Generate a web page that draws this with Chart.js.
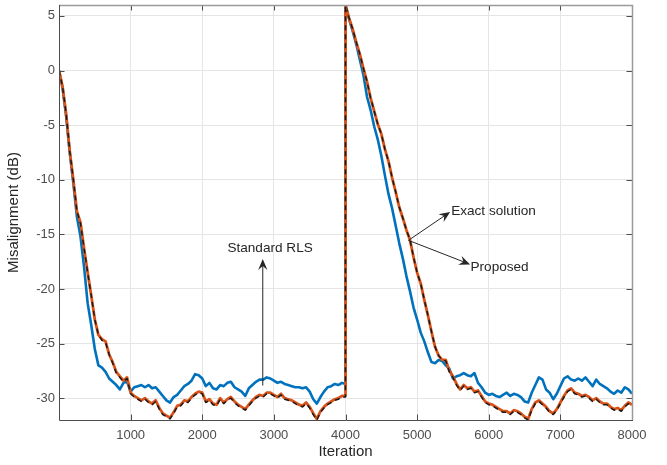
<!DOCTYPE html>
<html><head><meta charset="utf-8">
<script src="https://cdn.jsdelivr.net/npm/chart.js@4/dist/chart.umd.min.js"></script>
<style>html,body{margin:0;padding:0;background:#fff}#wrap{width:667px;height:465px}</style>
</head><body><div id="wrap"><canvas id="c" width="667" height="465"></canvas></div>
<script>
// ---- data ----
const xTicks = [1000, 2000, 3000, 4000, 5000, 6000, 7000, 8000];
const yTicks = [5, 0, -5, -10, -15, -20, -25, -30];

// sample iterations: 0..3950 step 50, 3999, 4000..8000 step 50
const iterations = [];
for (let k = 0; k <= 3950; k += 50) iterations.push(k);
iterations.push(3999);
for (let k = 4000; k <= 8000; k += 50) iterations.push(k);

const standardRLS = [
  0,-1.6,-4.2,-7.5,-10.3,-13.4,-15.2,-18.0,-21.3,-23.3,
  -25.5,-27.0,-27.2,-27.6,-28.2,-28.5,-28.8,-29.2,-28.6,-28.5,
  -29.4,-29.0,-28.9,-28.8,-29.0,-28.8,-29.1,-29.0,-29.4,-29.8,
  -30.2,-30.4,-29.9,-29.7,-29.3,-28.9,-28.7,-28.4,-27.8,-27.9,
  -28.2,-28.9,-28.6,-29.1,-29.2,-28.8,-28.9,-28.6,-28.5,-29.0,
  -29.2,-29.4,-29.8,-29.1,-28.8,-28.5,-28.3,-28.3,-28.1,-28.2,
  -28.4,-28.6,-28.5,-28.7,-28.8,-28.9,-29.0,-29.0,-29.1,-29.0,
  -29.4,-30.1,-30.5,-29.9,-29.4,-29.0,-28.9,-28.7,-28.8,-28.6,
  -28.7,
  6.0,4.7,3.6,2.4,1.0,-0.4,-2.4,-3.6,-5.1,-6.3,
  -7.8,-9.6,-11.3,-12.6,-14.2,-15.8,-17.2,-18.8,-20.2,-21.7,
  -22.8,-24.0,-24.8,-25.8,-26.7,-26.8,-26.5,-26.6,-27.0,-27.3,
  -28.2,-28.0,-27.9,-27.7,-27.9,-28.0,-27.7,-28.6,-29.0,-29.5,
  -29.7,-29.6,-29.8,-29.9,-29.7,-29.5,-29.8,-29.6,-29.7,-29.9,
  -30.3,-30.4,-29.5,-28.8,-28.1,-28.3,-29.2,-29.5,-30.1,-29.6,
  -28.9,-28.2,-28.0,-28.3,-28.4,-28.2,-28.4,-28.1,-28.5,-28.9,
  -28.3,-28.7,-28.9,-29.1,-29.4,-29.6,-29.3,-29.5,-29.0,-29.2,
  -29.6
];

const proposed = [
  0,-1.5,-4.0,-7.4,-10.0,-12.9,-13.9,-16.3,-18.5,-20.6,
  -22.8,-24.2,-24.6,-24.8,-26.0,-26.7,-27.6,-28.0,-28.4,-28.1,
  -29.5,-29.8,-30.0,-30.2,-30.0,-30.3,-30.5,-30.2,-30.9,-31.4,
  -31.6,-31.8,-31.3,-30.7,-30.6,-30.2,-30.3,-29.9,-29.6,-29.4,
  -29.5,-30.3,-30.1,-30.5,-30.6,-30.0,-30.4,-30.1,-29.9,-30.3,
  -30.6,-30.8,-31.0,-30.6,-30.2,-29.9,-29.7,-29.8,-29.5,-29.5,
  -29.7,-29.9,-29.6,-30.0,-30.1,-30.2,-30.4,-30.6,-30.7,-30.4,
  -30.8,-31.4,-31.9,-31.2,-30.8,-30.5,-30.3,-30.1,-30.0,-29.8,
  -29.8,
  6.0,4.8,3.8,2.6,1.5,0.2,-1.0,-2.5,-3.7,-4.9,
  -5.8,-7.2,-8.3,-9.8,-11.1,-12.5,-13.5,-14.6,-15.5,-17.1,
  -18.5,-19.5,-21.0,-22.4,-23.9,-25.3,-26.1,-26.5,-26.5,-27.5,
  -28.0,-28.7,-29.2,-28.8,-29.1,-29.0,-29.4,-29.3,-29.8,-30.3,
  -30.5,-30.6,-30.8,-31.0,-31.2,-31.2,-31.4,-31.1,-31.2,-31.4,
  -31.7,-31.9,-31.0,-30.4,-30.2,-30.5,-30.8,-31.2,-31.4,-31.0,
  -30.4,-29.8,-29.3,-29.1,-29.5,-29.6,-29.8,-29.7,-29.9,-30.2,
  -30.0,-30.3,-30.5,-30.5,-30.8,-31.0,-30.9,-31.1,-30.7,-30.4,
  -30.6
];

const exactSolution = [
  0,-1.5,-4.0,-7.4,-10.0,-12.9,-14.0,-16.3,-18.5,-20.6,
  -22.8,-24.2,-24.7,-24.9,-26.0,-26.8,-27.7,-28.1,-28.5,-28.2,
  -29.6,-29.9,-30.1,-30.3,-30.1,-30.4,-30.6,-30.3,-31.0,-31.5,
  -31.7,-31.9,-31.4,-30.8,-30.7,-30.3,-30.4,-30.0,-29.7,-29.5,
  -29.6,-30.4,-30.2,-30.6,-30.7,-30.1,-30.5,-30.2,-30.0,-30.4,
  -30.7,-30.9,-31.1,-30.7,-30.3,-30.0,-29.8,-29.9,-29.6,-29.6,
  -29.8,-30.0,-29.7,-30.1,-30.2,-30.3,-30.5,-30.7,-30.8,-30.5,
  -30.9,-31.5,-32.0,-31.3,-30.9,-30.6,-30.4,-30.2,-30.1,-29.9,
  -29.9,
  6.0,4.8,3.8,2.6,1.5,0.2,-1.0,-2.5,-3.7,-4.9,
  -5.8,-7.2,-8.3,-9.8,-11.1,-12.5,-13.5,-14.6,-15.5,-17.1,
  -18.5,-19.5,-21.0,-22.4,-23.9,-25.3,-26.1,-26.5,-26.6,-27.6,
  -28.1,-28.8,-29.3,-28.9,-29.2,-29.1,-29.5,-29.4,-29.9,-30.4,
  -30.6,-30.7,-30.9,-31.1,-31.3,-31.3,-31.5,-31.2,-31.3,-31.5,
  -31.8,-32.0,-31.1,-30.5,-30.3,-30.6,-30.9,-31.3,-31.5,-31.1,
  -30.5,-29.9,-29.4,-29.2,-29.6,-29.7,-29.9,-29.8,-30.0,-30.3,
  -30.1,-30.4,-30.6,-30.6,-30.9,-31.1,-31.0,-31.2,-30.8,-30.5,
  -30.7
];

// ---- annotations (data coordinates) ----
const annotationArrows = [
  { from: [4879, -15.55], to: [5461, -12.95] },
  { from: [4879, -15.55], to: [5740, -17.75] },
  { from: [2845, -28.85], to: [2845, -17.25] }
];
const annotationLabels = [
  { text: 'Exact solution', at: [5475, -12.9], align: 'left' },
  { text: 'Proposed', at: [5745, -18.05], align: 'left' },
  { text: 'Standard RLS', at: [2947, -16.3], align: 'center' }
];

const pts = arr => iterations.map((x, i) => ({ x: x, y: arr[i] }));
const FONT = "Arial, 'Liberation Sans', Helvetica, sans-serif";

const boxPlugin = {
  id: 'boxAndNotes',
  afterDraw(chart) {
    const { ctx, chartArea: a, scales: { x, y } } = chart;
    ctx.save();
    // inward ticks
    ctx.lineWidth = 1;
    ctx.strokeStyle = '#4d4d4d';
    const T = 5.5;
    xTicks.forEach(v => {
      const px = Math.round(x.getPixelForValue(v)) + 0.5;
      ctx.beginPath(); ctx.moveTo(px, a.bottom); ctx.lineTo(px, a.bottom - T); ctx.stroke();
      ctx.beginPath(); ctx.moveTo(px, a.top); ctx.lineTo(px, a.top + T); ctx.stroke();
    });
    yTicks.forEach(v => {
      const py = Math.round(y.getPixelForValue(v)) + 0.5;
      ctx.beginPath(); ctx.moveTo(a.left, py); ctx.lineTo(a.left + T, py); ctx.stroke();
      ctx.beginPath(); ctx.moveTo(a.right, py); ctx.lineTo(a.right - T, py); ctx.stroke();
    });
    // box
    ctx.strokeStyle = '#9a9a9a';
    ctx.lineWidth = 1.5;
    ctx.beginPath();
    ctx.moveTo(a.left, a.top + 0.5); ctx.lineTo(a.right + 0.5, a.top + 0.5); ctx.lineTo(a.right + 0.5, a.bottom);
    ctx.stroke();
    ctx.strokeStyle = '#4d4d4d';
    ctx.lineWidth = 1;
    ctx.beginPath();
    ctx.moveTo(Math.round(a.left) + 0.5, a.top); ctx.lineTo(Math.round(a.left) + 0.5, Math.round(a.bottom) + 0.5);
    ctx.lineTo(a.right + 1, Math.round(a.bottom) + 0.5);
    ctx.stroke();

    // arrows
    ctx.strokeStyle = '#262626';
    ctx.fillStyle = '#262626';
    ctx.lineWidth = 1;
    annotationArrows.forEach(ar => {
      const x0 = x.getPixelForValue(ar.from[0]), y0 = y.getPixelForValue(ar.from[1]);
      const x1 = x.getPixelForValue(ar.to[0]), y1 = y.getPixelForValue(ar.to[1]);
      const dx = x1 - x0, dy = y1 - y0, len = Math.hypot(dx, dy);
      const ux = dx / len, uy = dy / len, nx = -uy, ny = ux;
      const L = 11, W = 4.6;
      ctx.beginPath(); ctx.moveTo(x0, y0); ctx.lineTo(x1 - ux * L * 0.6, y1 - uy * L * 0.6); ctx.stroke();
      ctx.beginPath();
      ctx.moveTo(x1, y1);
      ctx.lineTo(x1 - ux * L + nx * W, y1 - uy * L + ny * W);
      ctx.lineTo(x1 - ux * L * 0.65, y1 - uy * L * 0.65);
      ctx.lineTo(x1 - ux * L - nx * W, y1 - uy * L - ny * W);
      ctx.closePath(); ctx.fill();
    });
    // labels
    ctx.font = '13.6px ' + FONT;
    ctx.textBaseline = 'middle';
    annotationLabels.forEach(lb => {
      ctx.textAlign = lb.align;
      ctx.fillText(lb.text, x.getPixelForValue(lb.at[0]), y.getPixelForValue(lb.at[1]));
    });
    ctx.restore();
  }
};

new Chart(document.getElementById('c'), {
  type: 'line',
  data: {
    datasets: [
      { label: 'Standard RLS', data: pts(standardRLS), borderColor: '#0072BD', borderWidth: 2.6, order: 3 },
      { label: 'Proposed', data: pts(proposed), borderColor: '#D95319', borderWidth: 2.8, order: 2 },
      { label: 'Exact solution', data: pts(exactSolution), borderColor: '#1a1a1a', borderWidth: 1.5, borderDash: [5, 4], order: 1 }
    ]
  },
  options: {
    responsive: false,
    animation: false,
    devicePixelRatio: 1,
    elements: { point: { radius: 0 }, line: { tension: 0, borderJoinStyle: 'round' } },
    layout: { padding: { top: 5, right: 35, left: 0, bottom: 0 } },
    plugins: { legend: { display: false }, tooltip: { enabled: false } },
    scales: {
      x: {
        type: 'linear', min: 0, max: 8000,
        afterBuildTicks: s => { s.ticks = xTicks.map(v => ({ value: v })); },
        afterFit: s => { s.height = 45; s.paddingLeft = 0; s.paddingRight = 0; },
        grid: { color: '#e5e5e5', drawTicks: false, lineWidth: 1 },
        border: { display: false },
        ticks: { padding: 8, color: '#4d4d4d', font: { family: FONT, size: 13 }, maxRotation: 0, autoSkip: false,
                 callback: v => String(v) },
        title: { display: true, text: 'Iteration', color: '#262626', font: { family: FONT, size: 15 }, padding: { top: 0, bottom: 4 } }
      },
      y: {
        type: 'linear', min: -32, max: 6,
        afterBuildTicks: s => { s.ticks = yTicks.map(v => ({ value: v })); },
        afterFit: s => { s.width = 59; s.paddingTop = 0; s.paddingBottom = 0; },
        grid: { color: '#e5e5e5', drawTicks: false, lineWidth: 1 },
        border: { display: false },
        ticks: { padding: 4, color: '#4d4d4d', font: { family: FONT, size: 13 }, autoSkip: false,
                 callback: v => String(v) },
        title: { display: true, text: 'Misalignment (dB)', color: '#262626', font: { family: FONT, size: 15 }, padding: { top: 5, bottom: 0 } }
      }
    }
  },
  plugins: [boxPlugin]
});
</script>
</body></html>
